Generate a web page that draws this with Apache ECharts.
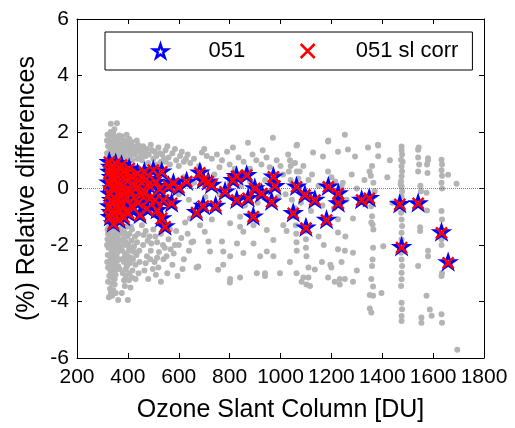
<!DOCTYPE html>
<html><head><meta charset="utf-8">
<script src="https://cdn.jsdelivr.net/npm/echarts@6/dist/echarts.min.js"></script>
<style>html,body{margin:0;padding:0;background:#fff}#c{width:515px;height:428px}</style>
</head><body><div id="c"></div>
<script>
// ---- data ----
const titleText = 'DS2.051 Relative differences to I2L07';
const xAxisName = 'Ozone Slant Column [DU]';
const yAxisName = '(%) Relative differences';
const seriesNames = ['051', '051 sl corr'];
const xRange = [200, 1800, 200];
const yRange = [-6, 6, 2];

// stations: ozone slant column (DU)
const refX = [327,332,329,335,326,338,330,336,328,334,331,343,340,342,345,341,
  352,356,350,360,354,362,351,358,364,355,366,
  375,382,390,378,386,395,380,392,384,
  405,412,420,408,425,415,402,
  438,445,435,452,440,448,
  465,472,480,468,485,475,
  500,533,510,525,507,539,579,560,631,533,546,572,600,515,395,360,
  683,696,729,670,696,745,716,782,814,827,867,828,873,899,926,893,972,978,965,
  1063,1096,1135,1050,1100,1188,1227,1227,1181,1319,1349,1469,1541,1476,1633,1659];
// relative differences, 051
const y051 = [0.95,0.78,0.60,0.42,0.22,0.02,-0.18,-0.40,-0.62,-0.82,-1.00,-1.22,0.70,-0.50,0.30,-0.90,
  0.90,0.68,0.50,0.25,0.05,-0.15,-0.35,-0.55,-0.75,-0.95,-1.10,
  0.85,0.60,0.35,0.10,-0.10,-0.30,-0.55,-0.80,-1.00,
  0.72,0.45,0.20,-0.05,-0.30,-0.60,-0.85,
  0.55,0.30,0.05,-0.20,-0.50,-0.92,
  0.60,0.35,0.15,-0.10,-0.35,-0.70,
  0.67,0.61,0.25,0.00,-0.39,-0.39,0.20,0.10,0.26,-1.04,-1.33,-0.51,0.05,-0.75,0.55,-0.40,
  0.58,0.31,0.14,-0.82,-0.60,-0.60,0.26,-0.10,0.31,0.45,0.49,-0.39,-0.33,0.02,-0.16,-0.98,0.43,0.10,-0.45,
  0.08,-0.21,-0.39,-0.86,-1.37,0.08,-0.16,-0.51,-1.10,-0.39,-0.33,-0.54,-0.51,-2.06,-1.54,-2.60];
// relative differences, 051 sl corr
const ySl = [0.93,0.76,0.58,0.40,0.20,0.00,-0.20,-0.42,-0.64,-0.84,-1.02,-1.26,0.68,-0.52,0.28,-0.92,
  0.88,0.66,0.48,0.23,0.03,-0.17,-0.37,-0.57,-0.77,-0.97,-1.12,
  0.83,0.58,0.33,0.08,-0.12,-0.32,-0.57,-0.82,-1.02,
  0.70,0.43,0.18,-0.07,-0.32,-0.62,-0.87,
  0.53,0.28,0.03,-0.22,-0.52,-0.94,
  0.58,0.33,0.13,-0.12,-0.37,-0.72,
  0.65,0.59,0.23,-0.02,-0.41,-0.41,0.18,0.08,0.24,-1.06,-1.36,-0.53,0.03,-0.77,0.53,-0.42,
  0.55,0.29,0.12,-0.85,-0.62,-0.62,0.24,-0.12,0.29,0.43,0.47,-0.41,-0.35,0.00,-0.18,-1.00,0.41,0.08,-0.47,
  0.06,-0.23,-0.41,-0.88,-1.40,0.06,-0.18,-0.53,-1.12,-0.41,-0.35,-0.56,-0.53,-2.09,-1.57,-2.63];

// all other comparisons (grey)
const greyPoints = [
  [333,2.29],[357,2.31],
  [320,1.90],[330,1.85],[342,1.95],[352,1.80],[365,1.88],[325,1.70],[338,1.65],[348,1.72],[360,1.60],[368,1.75],
  [322,1.50],[335,1.45],[345,1.55],[355,1.40],[366,1.50],[328,1.30],[340,1.25],[350,1.35],[362,1.20],[370,1.30],
  [324,1.10],[336,1.15],[347,1.05],[358,1.10],[368,1.00],
  [326,-1.35],[340,-1.45],[352,-1.40],[363,-1.50],[322,-1.60],[334,-1.70],[346,-1.65],[358,-1.75],[368,-1.60],
  [328,-1.90],[341,-1.95],[353,-1.85],[365,-2.00],[324,-2.10],[336,-2.20],[348,-2.15],[360,-2.25],[370,-2.10],
  [330,-2.40],[343,-2.45],[355,-2.35],[366,-2.50],[325,-2.60],[338,-2.70],[350,-2.65],[362,-2.75],
  [332,-2.90],[345,-2.95],[357,-2.85],[327,-3.10],[340,-3.15],[352,-3.05],[336,-3.35],[348,-3.40],
  [330,-3.55],[343,-3.60],[338,-3.80],[362,-3.95],[330,0.50],[345,-0.30],[355,0.20],[365,-0.80],
  [320,-1.45],[331,-1.55],[343,-1.80],[355,-1.55],[320,-1.80],[332,-2.05],[345,-2.30],[357,-2.05],
  [321,-2.35],[334,-2.55],[346,-2.80],[358,-2.55],[322,-2.80],[335,-3.00],[348,-3.20],[322,-3.30],
  [333,-3.70],[352,-3.70],[325,-3.85],[368,-2.85],[370,-1.85],[318,-2.00],[319,-2.60],
  [318,1.25],[330,1.60],[343,1.35],[355,1.65],[332,2.00],[347,2.10],[318,1.70],[372,1.55],
  [375,1.85],[385,1.70],[395,1.90],[405,1.75],[380,1.55],[392,1.50],[402,1.60],[412,1.45],
  [378,1.35],[388,1.25],[398,1.40],[410,1.30],[420,1.50],[430,1.35],[440,1.55],
  [383,1.10],[395,1.05],[408,1.15],[418,1.00],[428,1.20],[438,1.05],[448,1.30],
  [375,-1.40],[386,-1.55],[396,-1.35],[406,-1.60],[416,-1.45],[428,-1.70],
  [380,-1.80],[392,-1.90],[402,-2.00],[414,-1.85],[424,-2.05],[436,-1.90],
  [378,-2.20],[390,-2.30],[400,-2.40],[410,-2.20],[420,-2.50],[434,-2.35],[445,-2.20],
  [384,-2.60],[396,-2.75],[408,-2.65],[418,-2.90],[430,-2.70],
  [380,-3.00],[392,-3.10],[404,-3.25],[416,-3.15],[388,-3.45],[400,-3.95],[410,-3.50],[376,-3.70],
  [382,-1.60],[398,-1.70],[412,-1.35],[388,-2.00],[405,-2.15],[426,-2.25],[385,-2.45],[398,-2.55],
  [412,-2.45],[392,-2.85],[405,-3.00],[385,-3.25],[440,-1.60],[446,-2.60],[442,-3.00],[430,-3.20],
  [390,1.60],[402,1.35],[415,1.65],[425,1.25],[435,1.70],[445,1.45],[452,1.15],[386,1.45],
  [460,1.50],[475,1.40],[490,1.55],[505,1.30],[520,1.45],[535,1.20],[548,1.35],[560,1.10],[575,1.25],
  [590,1.00],[605,1.15],[620,0.95],[635,1.20],[470,1.15],[500,1.05],[530,0.95],[565,0.85],[600,0.80],
  [480,0.90],[645,0.90],[465,1.30],[482,1.20],[495,1.35],[512,1.15],[526,1.25],[542,1.05],
  [555,1.50],[585,1.40],[612,1.30],[628,1.05],[455,1.00],[515,0.85],[548,0.95],
  [455,-1.30],[470,-1.50],[485,-1.70],[500,-1.45],[515,-1.90],[530,-1.60],[545,-2.10],[560,-1.80],
  [580,-2.30],[600,-2.00],[620,-2.50],[640,-2.20],[460,-2.00],[475,-2.40],[490,-2.20],[505,-2.60],
  [520,-2.80],[540,-2.50],[555,-3.00],[575,-2.70],[595,-3.10],[465,-2.90],[480,-3.20],[510,-3.05],
  [530,-3.30],[615,-2.85],[635,-1.60],[590,-1.50],[625,-1.20],[650,-1.90],
  [462,-1.65],[478,-1.85],[492,-1.95],[508,-1.70],[522,-2.25],[538,-2.00],[552,-2.40],[568,-2.15],
  [470,-2.65],[488,-2.50],[498,-2.85],[515,-2.45],[565,-1.45],[610,-1.75],[585,-2.00],
  [560,0.30],[600,-0.20],[620,0.40],[580,-0.60],[640,-0.40],
  [691,1.27],[710,1.15],[730,1.05],[750,1.20],[770,1.00],[790,1.30],[813,1.45],[835,1.10],[855,0.95],
  [872,1.62],[890,1.20],[905,1.00],[925,0.85],[945,1.10],[958,0.75],[970,1.80],[985,1.00],[1000,0.80],
  [660,1.05],[680,0.80],[760,0.75],[800,0.85],[820,0.70],[880,0.70],[930,1.35],[700,1.40],
  [657,-1.88],[702,-1.53],[717,-1.88],[770,-1.88],[829,-1.95],[723,-2.23],[775,-2.23],[802,-2.40],
  [854,-2.28],[894,-1.95],[920,-2.40],[946,-2.23],[972,-1.82],[972,-2.40],[677,-2.76],[755,-2.88],
  [775,-2.70],[907,-3.00],[939,-3.00],[998,-3.00],[802,-3.20],[841,-3.15],[1037,-2.60],[1011,-1.30],
  [1024,-1.50],[841,-1.35],[854,-1.53],[894,-1.30],[802,-1.23],[730,-1.10],[684,-1.30],[644,-1.06],
  [946,-1.47],[841,-1.00],[670,-2.80],[801,-3.33],[939,-3.10],
  [660,0.20],[705,-0.30],[740,0.50],[760,-0.20],[800,0.20],[845,0.10],[860,-0.60],[880,0.25],
  [910,-0.50],[940,0.30],[955,-0.10],[990,-0.30],[1010,0.50],[1020,-0.20],[1040,0.30],[1045,-0.40],
  [1065,1.55],[1128,1.27],[1167,1.13],[1187,1.66],[1226,1.30],[1253,1.90],[1265,1.38],[1293,1.13],
  [1344,1.45],[1383,1.55],[1063,1.52],[1188,1.70],[1030,1.20],[1037,1.00],[1040,0.80],[1033,0.60],
  [1057,0.90],[1064,0.60],[1070,0.35],[1075,0.60],[1090,0.80],[1110,0.30],[1124,0.50],[1150,0.10],
  [1187,0.60],[1200,0.40],[1215,0.25],[1240,0.07],[1245,0.20],[1280,0.50],[1300,0.00],[1330,0.30],
  [1350,0.60],[1360,0.80],[1365,0.20],[1370,-0.10],[1355,0.45],
  [1080,-0.50],[1120,-0.80],[1165,-0.60],[1210,-0.70],[1260,-0.40],
  [1057,-0.70],[1058,-1.00],[1060,-1.30],[1062,-1.60],[1063,-1.90],[1064,-2.20],
  [1096,-1.50],[1100,-1.80],[1100,-2.10],[1102,-2.40],[1163,-2.60],[1196,-2.70],[1110,-2.80],
  [1135,-2.87],[1063,-3.00],[1090,-3.15],[1110,-3.15],[1083,-3.30],[1102,-3.40],[1116,-3.45],
  [1187,-3.15],[1213,-3.30],[1233,-3.40],[1233,-3.20],[1253,-3.20],[1285,-3.30],
  [1226,-1.09],[1226,-1.56],[1226,-2.15],[1253,-2.20],[1285,-2.27],[1240,-2.60],[1200,-2.80],
  [1285,-1.06],[1220,-0.50],[1150,-1.70],[1170,-2.00],[1255,-1.70],[1300,-2.90],
  [1357,-0.63],[1360,-0.98],[1357,-1.20],[1362,-1.27],[1365,-1.45],[1364,-2.10],[1362,-2.51],
  [1360,-2.74],[1357,-3.20],[1364,-3.47],[1351,-3.77],[1364,-3.80],[1397,-3.70],[1351,-4.25],
  [1357,-4.39],[1404,-2.04],[1384,1.52],[1384,1.14],[1420,0.40],[1440,-0.50],[1430,1.00],
  [1476,1.49],[1476,1.35],[1478,1.20],[1474,1.02],[1476,0.79],[1478,0.61],[1476,0.43],[1474,0.26],
  [1476,0.08],[1478,-0.10],[1476,-0.27],[1476,-0.63],[1474,-0.86],[1476,-1.10],[1478,-1.33],
  [1476,-1.57],[1476,-1.80],[1474,-2.27],[1476,-2.51],[1478,-2.74],[1476,-2.98],[1476,-3.21],
  [1474,-3.45],[1476,-4.04],[1478,-4.27],[1476,-4.51],[1476,-4.69],[1480,0.95],[1472,0.15],
  [1543,1.45],[1541,1.37],[1541,1.10],[1545,0.85],[1541,0.60],[1550,0.10],[1552,-0.10],
  [1549,-1.37],[1549,-1.50],[1541,-2.74],[1554,-4.57],[1554,-4.75],
  [1580,1.07],[1580,1.00],[1576,0.85],[1578,0.55],[1574,-0.15],[1576,-0.78],[1580,-2.20],
  [1580,-2.40],[1574,-3.80],[1587,-4.28],[1594,-4.50],
  [1633,1.02],[1635,0.85],[1633,0.65],[1635,0.45],[1633,0.20],[1635,0.00],[1633,-0.80],
  [1635,-1.10],[1633,-1.80],[1633,-2.00],[1635,-3.00],[1633,-3.10],[1633,-4.45],[1635,-4.75],
  [1659,0.49],[1692,0.17],[1695,-5.71]
];

// ---- chart ----
const starPath = 'path://M0,-10L2.25,-3.09L9.51,-3.09L3.63,1.18L5.88,8.09L0,3.82L-5.88,8.09L-3.63,1.18L-9.51,-3.09L-2.25,-3.09Z';
const crossPath = 'path://M0,0L10,10M10,0L0,10';
const FONT = 'Liberation Sans, Arial, Helvetica, sans-serif';

const chart = echarts.init(document.getElementById('c'), null, {renderer: 'canvas'});
const axisCommon = {
  type: 'value',
  axisLine: {show: true, onZero: false, lineStyle: {color: '#000', width: 1}},
  axisTick: {show: true, inside: true, length: 5, lineStyle: {color: '#000', width: 1}},
  splitLine: {show: false}
};
const plainLabel = v => String(v);
const option = {
  animation: false,
  backgroundColor: '#fff',
  title: {
    text: titleText, left: 'center', top: -25,
    textStyle: {fontFamily: FONT, fontSize: 26, fontWeight: 'normal', color: '#000'}
  },
  grid: {left: 77, right: 31, top: 19, bottom: 69, containLabel: false},
  legend: {
    left: 105, top: 32,
    padding: [8, 14, 8, 46],
    itemGap: 53,
    itemWidth: 14, itemHeight: 14,
    borderColor: '#000', borderWidth: 1, backgroundColor: '#fff',
    textStyle: {fontFamily: FONT, fontSize: 22, color: '#000', padding: [0, 0, 0, 36]},
    data: [
      {name: seriesNames[0], icon: starPath, itemStyle: {color: 'none', borderColor: '#0000ff', borderWidth: 2.5, opacity: 1}},
      {name: seriesNames[1], icon: crossPath, itemStyle: {color: 'none', borderColor: '#ff0000', borderWidth: 2.5, opacity: 1}}
    ]
  },
  xAxis: [
    Object.assign({}, axisCommon, {
      min: xRange[0], max: xRange[1], interval: xRange[2], position: 'bottom',
      axisLabel: {color: '#000', fontFamily: FONT, fontSize: 21, margin: 9,
        formatter: plainLabel, showMinLabel: true, showMaxLabel: true, hideOverlap: false},
      name: xAxisName, nameLocation: 'middle', nameGap: 40,
      nameTextStyle: {fontFamily: FONT, fontSize: 25, color: '#000'}
    }),
    Object.assign({}, axisCommon, {
      min: xRange[0], max: xRange[1], interval: xRange[2], position: 'top',
      axisLabel: {show: false}
    })
  ],
  yAxis: [
    Object.assign({}, axisCommon, {
      min: yRange[0], max: yRange[1], interval: yRange[2], position: 'left',
      axisLabel: {color: '#000', fontFamily: FONT, fontSize: 21, margin: 8,
        formatter: plainLabel, showMinLabel: true, showMaxLabel: true},
      name: yAxisName, nameLocation: 'middle', nameGap: 36,
      nameTextStyle: {fontFamily: FONT, fontSize: 25, color: '#000'}
    }),
    Object.assign({}, axisCommon, {
      min: yRange[0], max: yRange[1], interval: yRange[2], position: 'right',
      axisLabel: {show: false}
    })
  ],
  series: [
    {
      name: 'all', type: 'scatter', symbol: 'circle', symbolSize: 6,
      itemStyle: {color: '#b4b4b4', opacity: 1}, silent: true,
      data: greyPoints,
      markLine: {
        silent: true, symbol: 'none', label: {show: false},
        lineStyle: {color: '#ff0000', type: 'dotted', width: 1, opacity: 0.7},
        data: [{yAxis: 0}]
      }
    },
    {
      name: seriesNames[0], type: 'scatter', symbol: starPath, symbolSize: [14, 13],
      itemStyle: {color: 'none', borderColor: '#0000ff', borderWidth: 2.5, opacity: 1},
      data: refX.map((x, i) => [x, y051[i]])
    },
    {
      name: seriesNames[1], type: 'scatter', symbol: crossPath, symbolSize: 11,
      itemStyle: {color: 'none', borderColor: '#ff0000', borderWidth: 2.5, opacity: 1},
      data: refX.map((x, i) => [x, ySl[i]])
    }
  ]
};
chart.setOption(option);
</script>
</body></html>
